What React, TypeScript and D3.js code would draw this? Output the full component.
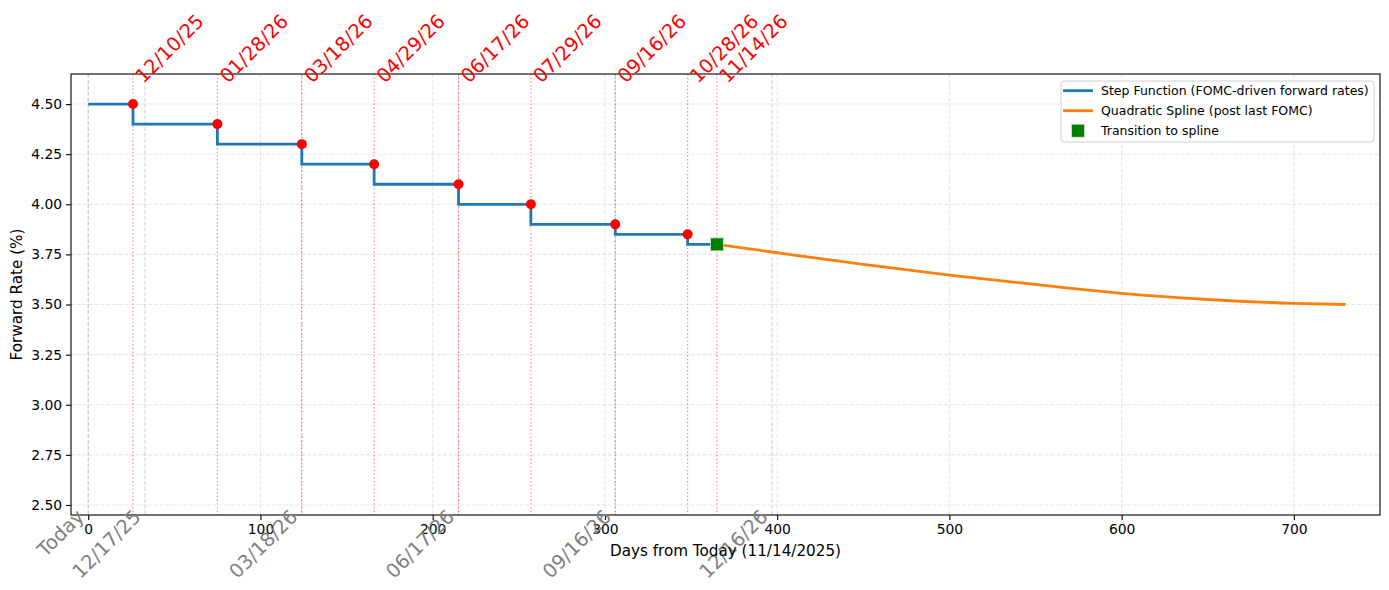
import { useEffect, useRef } from "react";
import * as d3 from "d3";

// step function: each segment starts on a meeting date and holds the rate
const segmentStarts = [0, 26, 75, 124, 166, 215, 257, 306, 348];
const stepRates = [4.5, 4.4, 4.3, 4.2, 4.1, 4.0, 3.9, 3.85, 3.8];
const transitionDay = 365;
const transitionRate = 3.8;

// meeting markers (rate in force just before the cut)
const fomcDays = [26, 75, 124, 166, 215, 257, 306, 348];
const fomcRates = [4.5, 4.4, 4.3, 4.2, 4.1, 4.0, 3.9, 3.85];

// dotted reference lines with their date labels
const markerDays = [26, 75, 124, 166, 215, 257, 306, 348, 365];
const markerLabels = [
  "12/10/25",
  "01/28/26",
  "03/18/26",
  "04/29/26",
  "06/17/26",
  "07/29/26",
  "09/16/26",
  "10/28/26",
  "11/14/26",
];

// spline after the last meeting
const splineDays = [365, 397, 450, 500, 550, 600, 650, 700, 730];
const splineRates = [3.8, 3.762, 3.7, 3.647, 3.6, 3.556, 3.525, 3.506, 3.5];

// quarterly calendar ticks
const quarterDays = [0, 33, 124, 215, 306, 397];
const quarterLabels = ["Today", "12/17/25", "03/18/26", "06/17/26", "09/16/26", "12/16/26"];

const xTicks = [0, 100, 200, 300, 400, 500, 600, 700];
const yTicks = [2.5, 2.75, 3.0, 3.25, 3.5, 3.75, 4.0, 4.25, 4.5];

const FONT = "DejaVu Sans, sans-serif";
const BLUE = "#1f77b4";
const ORANGE = "#ff7f0e";

const ForwardCurve = () => {
  const svgRef = useRef<SVGSVGElement | null>(null);

  useEffect(() => {
    if (!svgRef.current) return;

    const width = 1389;
    const height = 590;
    const margin = { top: 74, right: 9, bottom: 75, left: 71 };
    const innerWidth = width - margin.left - margin.right;
    const innerHeight = height - margin.top - margin.bottom;

    const svg = d3.select(svgRef.current);
    svg.selectAll("*").remove();
    svg.attr("width", width).attr("height", height).attr("viewBox", `0 0 ${width} ${height}`);

    svg.append("rect").attr("width", width).attr("height", height).attr("fill", "white");

    const x = d3.scaleLinear().domain([-10, 750]).range([0, innerWidth]);
    const y = d3.scaleLinear().domain([2.45, 4.65]).range([innerHeight, 0]);

    const g = svg.append("g").attr("transform", `translate(${margin.left}, ${margin.top})`);

    // grid
    g.append("g")
      .selectAll("line")
      .data(yTicks)
      .join("line")
      .attr("x1", 0)
      .attr("x2", innerWidth)
      .attr("y1", (d) => y(d))
      .attr("y2", (d) => y(d))
      .attr("stroke", "#b0b0b0")
      .attr("stroke-opacity", 0.3)
      .attr("stroke-width", 1.1)
      .attr("stroke-dasharray", "4.1,1.8");

    g.append("g")
      .selectAll("line")
      .data(xTicks)
      .join("line")
      .attr("x1", (d) => x(d))
      .attr("x2", (d) => x(d))
      .attr("y1", 0)
      .attr("y2", innerHeight)
      .attr("stroke", "#b0b0b0")
      .attr("stroke-opacity", 0.3)
      .attr("stroke-width", 1.1)
      .attr("stroke-dasharray", "4.1,1.8");

    // quarterly guide lines
    g.append("g")
      .selectAll("line")
      .data(quarterDays)
      .join("line")
      .attr("x1", (d) => x(d))
      .attr("x2", (d) => x(d))
      .attr("y1", 0)
      .attr("y2", innerHeight)
      .attr("stroke", "gray")
      .attr("stroke-opacity", 0.35)
      .attr("stroke-width", 1.1)
      .attr("stroke-dasharray", "4.1,1.8");

    // meeting lines
    g.append("g")
      .selectAll("line")
      .data(markerDays)
      .join("line")
      .attr("x1", (d) => x(d))
      .attr("x2", (d) => x(d))
      .attr("y1", 0)
      .attr("y2", innerHeight)
      .attr("stroke", "red")
      .attr("stroke-opacity", 0.5)
      .attr("stroke-width", 1.1)
      .attr("stroke-dasharray", "1.4,2.3");

    // step curve
    const stepPoints: [number, number][] = segmentStarts.map((d, i) => [d, stepRates[i]]);
    stepPoints.push([transitionDay, transitionRate]);

    const stepLine = d3
      .line<[number, number]>()
      .x((d) => x(d[0]))
      .y((d) => y(d[1]))
      .curve(d3.curveStepAfter);

    g.append("path")
      .datum(stepPoints)
      .attr("fill", "none")
      .attr("stroke", BLUE)
      .attr("stroke-width", 2.8)
      .attr("d", stepLine);

    // spline
    const splinePoints: [number, number][] = splineDays.map((d, i) => [d, splineRates[i]]);
    const splineLine = d3
      .line<[number, number]>()
      .x((d) => x(d[0]))
      .y((d) => y(d[1]))
      .curve(d3.curveMonotoneX);

    g.append("path")
      .datum(splinePoints)
      .attr("fill", "none")
      .attr("stroke", ORANGE)
      .attr("stroke-width", 2.8)
      .attr("d", splineLine);

    // meeting dots
    g.append("g")
      .selectAll("circle")
      .data(fomcDays)
      .join("circle")
      .attr("cx", (d) => x(d))
      .attr("cy", (_, i) => y(fomcRates[i]))
      .attr("r", 5)
      .attr("fill", "red");

    // transition marker
    g.append("rect")
      .attr("x", x(transitionDay) - 6.5)
      .attr("y", y(transitionRate) - 6.5)
      .attr("width", 13)
      .attr("height", 13)
      .attr("fill", "green")
      .attr("stroke", "#cfe6cf")
      .attr("stroke-width", 0.8);

    // frame
    g.append("rect")
      .attr("width", innerWidth)
      .attr("height", innerHeight)
      .attr("fill", "none")
      .attr("stroke", "black")
      .attr("stroke-width", 1.1);

    // axes
    const axisBottom = d3.axisBottom(x).tickValues(xTicks).tickSize(4.9).tickPadding(4).tickFormat(d3.format("d"));
    const axisLeft = d3.axisLeft(y).tickValues(yTicks).tickSize(4.9).tickPadding(4).tickFormat(d3.format(".2f"));

    g.append("g")
      .attr("transform", `translate(0, ${innerHeight})`)
      .call(axisBottom)
      .call((axis) => axis.select(".domain").remove())
      .call((axis) => axis.selectAll("line").attr("stroke", "black").attr("stroke-width", 1.1))
      .call((axis) =>
        axis.selectAll("text").attr("fill", "black").attr("font-size", 13.9).attr("font-family", FONT)
      );

    g.append("g")
      .call(axisLeft)
      .call((axis) => axis.select(".domain").remove())
      .call((axis) => axis.selectAll("line").attr("stroke", "black").attr("stroke-width", 1.1))
      .call((axis) =>
        axis.selectAll("text").attr("fill", "black").attr("font-size", 13.9).attr("font-family", FONT)
      );

    // date labels above the frame
    g.append("g")
      .selectAll("text")
      .data(markerLabels)
      .join("text")
      .attr("transform", (_, i) => `translate(${x(markerDays[i]) + 10.5}, 10) rotate(-45)`)
      .attr("fill", "red")
      .attr("font-size", 19.4)
      .attr("font-family", FONT)
      .text((d) => d);

    // quarterly labels below the frame
    g.append("g")
      .selectAll("text")
      .data(quarterLabels)
      .join("text")
      .attr("transform", (_, i) => `translate(${x(quarterDays[i]) - 3}, ${innerHeight + 3}) rotate(-45)`)
      .attr("text-anchor", "end")
      .attr("fill", "gray")
      .attr("font-size", 19.4)
      .attr("font-family", FONT)
      .text((d) => d);

    // axis titles
    svg
      .append("text")
      .attr("x", margin.left + innerWidth / 2)
      .attr("y", 556)
      .attr("text-anchor", "middle")
      .attr("font-size", 15.2)
      .attr("font-family", FONT)
      .text("Days from Today (11/14/2025)");

    svg
      .append("text")
      .attr("transform", `translate(22, ${margin.top + innerHeight / 2}) rotate(-90)`)
      .attr("text-anchor", "middle")
      .attr("font-size", 15.2)
      .attr("font-family", FONT)
      .text("Forward Rate (%)");

    // legend
    const legend = svg.append("g").attr("transform", "translate(1061, 81)");
    legend
      .append("rect")
      .attr("width", 313)
      .attr("height", 61)
      .attr("rx", 3)
      .attr("fill", "white")
      .attr("fill-opacity", 0.8)
      .attr("stroke", "#d0d0d0")
      .attr("stroke-width", 1);

    const entries = [
      { label: "Step Function (FOMC-driven forward rates)", kind: "line", color: BLUE },
      { label: "Quadratic Spline (post last FOMC)", kind: "line", color: ORANGE },
      { label: "Transition to spline", kind: "square", color: "green" },
    ];

    entries.forEach((e, i) => {
      const cy = 9.7 + i * 20;
      if (e.kind === "line") {
        legend
          .append("line")
          .attr("x1", 2)
          .attr("x2", 32)
          .attr("y1", cy)
          .attr("y2", cy)
          .attr("stroke", e.color)
          .attr("stroke-width", 2.8);
      } else {
        legend
          .append("rect")
          .attr("x", 17 - 6.5)
          .attr("y", cy - 6.5)
          .attr("width", 13)
          .attr("height", 13)
          .attr("fill", e.color)
          .attr("stroke", "#cfe6cf")
          .attr("stroke-width", 0.8);
      }
      legend
        .append("text")
        .attr("x", 40)
        .attr("y", cy + 4.5)
        .attr("font-size", 12.5)
        .attr("font-family", FONT)
        .text(e.label);
    });
  }, []);

  return <svg ref={svgRef} style={{ position: "absolute", left: 0, top: 0, display: "block" }} />;
};

const App = () => <ForwardCurve />;

export default App;
